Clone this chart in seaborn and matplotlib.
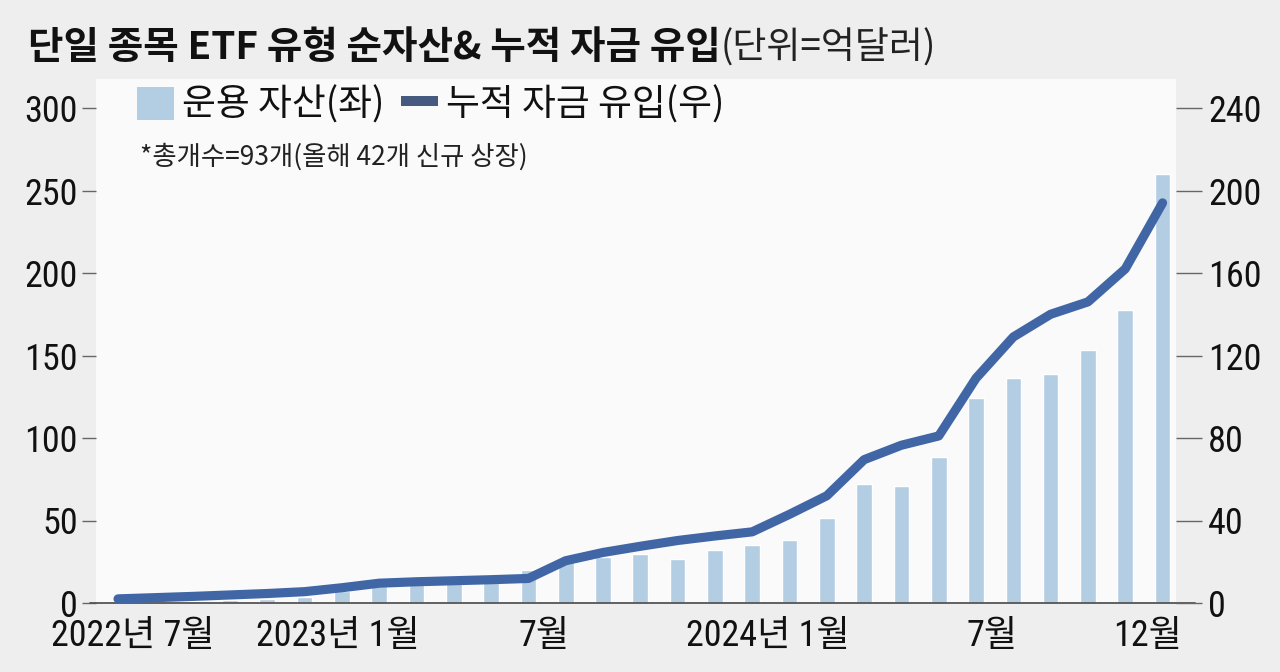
import matplotlib
matplotlib.use("Agg")
import matplotlib.pyplot as plt
from matplotlib.lines import Line2D
from matplotlib.patches import Patch
import seaborn as sns
import numpy as np
import pandas as pd

# ---------------- data ----------------
months = ["2022-08", "2022-09", "2022-10", "2022-11", "2022-12",
          "2023-01", "2023-02", "2023-03", "2023-04", "2023-05", "2023-06",
          "2023-07", "2023-08", "2023-09", "2023-10", "2023-11", "2023-12",
          "2024-01", "2024-02", "2024-03", "2024-04", "2024-05", "2024-06",
          "2024-07", "2024-08", "2024-09", "2024-10", "2024-11", "2024-12"]
assets = [0.5, 0.8, 1.2, 1.6, 2.2, 3.9, 7.3, 10.6, 11.8, 12.2, 12.6,
          20.0, 25.0, 27.6, 30.0, 26.6, 32.1, 35.1, 38.1, 51.4, 72.2,
          71.2, 88.5, 124.5, 136.5, 138.5, 153.3, 177.5, 260.0]
inflows = [2.0, 2.6, 3.2, 3.9, 4.6, 5.5, 7.4, 9.6, 10.3, 10.8, 11.3,
           11.9, 20.5, 24.5, 27.5, 30.3, 32.5, 34.5, 43.0, 52.0, 69.5,
           76.5, 81.0, 109.0, 129.0, 140.0, 146.0, 162.0, 194.0]
xtick_pos = [0.4, 5.9, 11.42, 17.43, 23.43, 27.61]
xtick_labels = ["2022년 7월", "2023년 1월", "7월", "2024년 1월", "7월", "12월"]
left_ticks = [0, 50, 100, 150, 200, 250, 300]
right_ticks = [0, 40, 80, 120, 160, 200, 240]

title_bold = "단일 종목 ETF 유형 순자산& 누적 자금 유입"
title_unit = "(단위=억달러)"
note = "*총개수=93개(올해 42개 신규 상장)"
legend_labels = ["운용 자산(좌)", "누적 자금 유입(우)"]

# ---------------- style ----------------
sns.set_style("white")
plt.rcParams["font.family"] = ["Noto Sans CJK KR", "DejaVu Sans"]
num_font = ["Roboto Condensed", "Liberation Sans Narrow", "Noto Sans CJK KR"]

BG = "#eeeeee"
PLOT_BG = "#fafafa"
BAR_C = "#b3cde3"
LINE_C = "#4166a6"
LEG_LINE_C = "#465a80"
TXT = "#111111"

W, H = 1280, 672
fig = plt.figure(figsize=(12.8, 6.72), dpi=100, facecolor=BG)

x_left, x_right = 96, 1176
y_base, y_top = 603, 79
ax = fig.add_axes([x_left / W, (H - y_base) / H, (x_right - x_left) / W, (y_base - y_top) / H])
ax.set_facecolor(PLOT_BG)

df = pd.DataFrame({"month": months, "assets": assets, "inflows": inflows})
df["idx"] = np.arange(len(df))

sns.barplot(data=df, x="month", y="assets", color=BAR_C, saturation=1,
            width=0.42, ax=ax, zorder=2)

px_per_unit = (y_base - 108) / 300.0
ytop_left = (y_base - y_top) / px_per_unit
ax.set_ylim(0, ytop_left)
ax.set_xlim(-0.59, 28.36)

ax2 = ax.twinx()
sns.lineplot(data=df, x="idx", y="inflows", color=LINE_C, linewidth=6.6,
             solid_capstyle="round", solid_joinstyle="round", ax=ax2, zorder=3)
ax2.set_ylim(0, ytop_left * 0.8)
ax2.set_xlim(-0.59, 28.36)

for a in (ax, ax2):
    for s in a.spines.values():
        s.set_visible(False)
    a.set_xlabel("")
    a.set_ylabel("")

ax2.patch.set_visible(False)

NUM_FS = 26
# left axis ticks
ax.set_yticks(left_ticks)
ax.set_yticklabels([str(t) for t in left_ticks], family=num_font, fontstretch="condensed",
                   fontsize=NUM_FS, color=TXT)
ax.tick_params(axis="y", which="both", left=True, direction="out", length=10,
               width=1.0, color="#666666", pad=3)

# right axis ticks
ax2.set_yticks(right_ticks)
ax2.set_yticklabels([str(t) for t in right_ticks], family=num_font, fontstretch="condensed",
                    fontsize=NUM_FS, color=TXT)
ax2.tick_params(axis="y", which="both", right=True, direction="out", length=19,
                width=1.0, color="#666666", pad=4)

# x ticks
ax.set_xticks(xtick_pos)
ax.set_xticklabels(xtick_labels, family=num_font, fontstretch="condensed",
                   fontsize=NUM_FS, color=TXT)
ax.tick_params(axis="x", length=0, pad=11)
ax2.tick_params(axis="x", length=0, labelbottom=False)

# baseline (extends past the plot area)
ax.plot([(90 - x_left) / (x_right - x_left), (1195 - x_left) / (x_right - x_left)], [0, 0],
        transform=ax.transAxes, color="#555555", linewidth=1.3, clip_on=False, zorder=4)

# title
t1 = fig.text(28 / W, 1 - 47 / H, title_bold, fontsize=27.8, fontweight="bold",
              color=TXT, va="center", ha="left")
fig.canvas.draw()
bb = t1.get_window_extent()
fig.text(bb.x1 / W, 1 - 48 / H, title_unit, fontsize=26.6, color="#222222",
         va="center", ha="left")

# legend
handles = [Patch(facecolor=BAR_C, edgecolor="none"),
           Line2D([0], [0], color=LEG_LINE_C, linewidth=7.2, solid_capstyle="butt")]
leg = fig.legend(handles, legend_labels, loc="upper left",
                 bbox_to_anchor=(137 / W, 1 - 86 / H), ncol=2, frameon=False,
                 fontsize=26.5, handlelength=1.0, handleheight=1.0,
                 handletextpad=0.22, columnspacing=0.45, borderpad=0,
                 borderaxespad=0)
for t in leg.get_texts():
    t.set_color(TXT)

# note
fig.text(140 / W, 1 - 157 / H, note, fontsize=19, color="#222222", va="center", ha="left")

fig.savefig("out.png", dpi=100, facecolor=BG)
